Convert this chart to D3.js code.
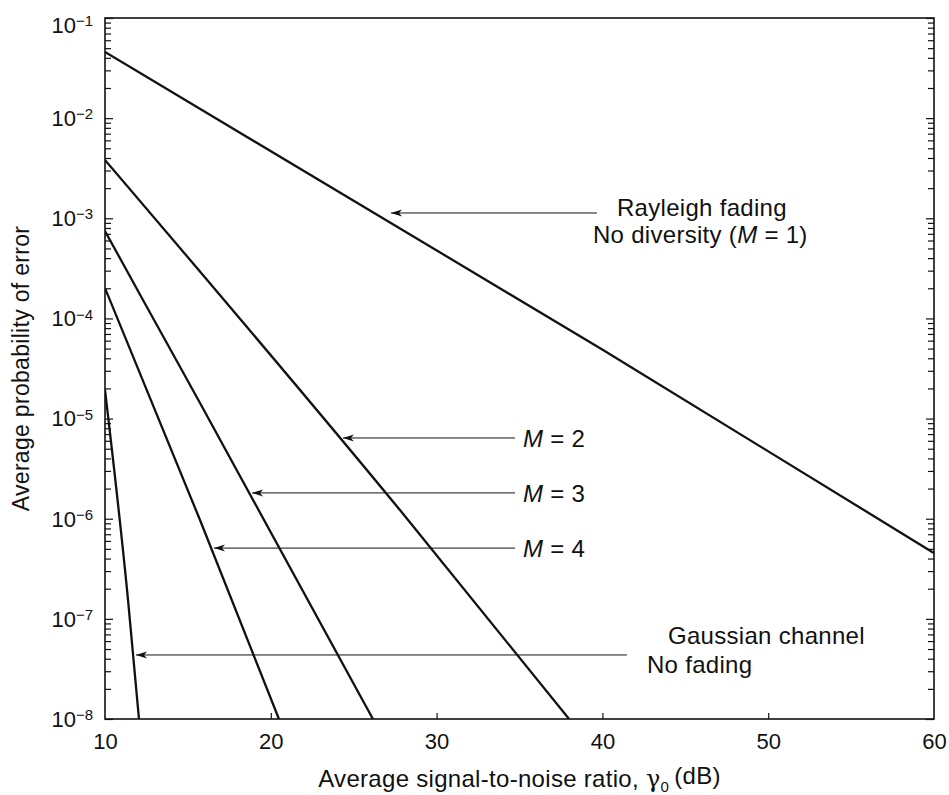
<!DOCTYPE html>
<html>
  <head>
    <meta charset="utf-8">
    <title>Error probability with diversity</title>
    <script src="https://cdn.jsdelivr.net/npm/d3@7"></script>
    <style>
      body { margin: 0; background: #fff; }
      svg { font-family: "Liberation Sans", Arial, sans-serif; fill: #111; }
      .curve { fill: none; stroke: #111; stroke-width: 2.3px; }
      .frame { fill: none; stroke: #111; stroke-width: 1.6px; }
      .axis path { display: none; }
      .axis line { stroke: #111; stroke-width: 1.2px; }
      .pointer { stroke: #111; stroke-width: 1px; }
      .note { font-size: 24px; letter-spacing: 0.3px; }
      .tickLabel { font-size: 22px; }
    </style>
  </head>
  <body>
    <svg id="chart" width="949" height="795"></svg>
    <script>
      // curves: [dB, probability]
      rayleigh = [[10, 0.0458], [40.04, 4.84e-5], [60, 4.54e-7]];
      diversity2 = [[10, 3.82e-3], [27.79, 1.22e-6], [37.99, 1e-8]];
      diversity3 = [[10, 7.46e-4], [12.29, 1.53e-4], [15.73, 1.43e-5], [26.16, 1e-8]];
      diversity4 = [[10, 2.01e-4], [15.73, 9.7e-7], [20.49, 1e-8]];
      gaussian = [[10, 1.93e-5], [11.39, 1.54e-7], [12.05, 1e-8]];
      curves = [rayleigh, diversity2, diversity3, diversity4, gaussian];

      xTicks = [10, 20, 30, 40, 50, 60];
      yDecades = [1e-1, 1e-2, 1e-3, 1e-4, 1e-5, 1e-6, 1e-7, 1e-8];
      yExponents = ["\u22121", "\u22122", "\u22123", "\u22124", "\u22125", "\u22126", "\u22127", "\u22128"];

      // pointers: tip [dB, p], tail dB, label lines
      notes = [
        {tip: [27.19, 1.13e-3], tail: 39.67, lines: [["Rayleigh fading"], ["No diversity (", "M", " = 1)"]]},
        {tip: [24.29, 6.4e-6], tail: 34.73, lines: [["", "M", " = 2"]]},
        {tip: [18.81, 1.81e-6], tail: 34.73, lines: [["", "M", " = 3"]]},
        {tip: [16.51, 5.09e-7], tail: 34.73, lines: [["", "M", " = 4"]]},
        {tip: [11.81, 4.36e-8], tail: 41.48, lines: [["Gaussian channel"], ["No fading"]]}
      ];

      svg = d3.select("#chart");
      margin = {top: 18, right: 15, bottom: 76, left: 105};
      width = 949 - margin.left - margin.right;
      height = 795 - margin.top - margin.bottom;

      x = d3.scaleLinear().domain([10, 60]).range([0, width]);
      y = d3.scaleLog().domain([1e-8, 1e-1]).range([height, 0]);

      chart = svg.append("g")
        .attr("transform", "translate(" + margin.left + "," + margin.top + ")");

      // all ticks of the log axis, decades a bit longer
      minorTicks = [];
      yDecades.forEach(function(d) {
        if (d < 1e-1) {
          for (k = 2; k <= 9; k++) minorTicks.push(d * k);
        }
      });

      chart.append("g")
        .attr("class", "axis")
        .call(d3.axisLeft(y).tickValues(minorTicks).tickSize(-6).tickFormat(""));
      chart.append("g")
        .attr("class", "axis")
        .call(d3.axisLeft(y).tickValues(yDecades).tickSize(-8).tickFormat(""));
      chart.append("g")
        .attr("class", "axis")
        .attr("transform", "translate(" + width + ",0)")
        .call(d3.axisRight(y).tickValues(minorTicks).tickSize(-6).tickFormat(""));
      chart.append("g")
        .attr("class", "axis")
        .attr("transform", "translate(" + width + ",0)")
        .call(d3.axisRight(y).tickValues(yDecades).tickSize(-8).tickFormat(""));

      xAxis = chart.append("g")
        .attr("class", "axis")
        .attr("transform", "translate(0," + height + ")")
        .call(d3.axisBottom(x).tickValues(xTicks).tickSize(-6).tickPadding(14));
      xAxis.selectAll("text")
        .attr("class", "tickLabel")
        .attr("font-size", null)
        .attr("font-family", null)
        .attr("fill", "#111");
      xAxis.selectAll(".tick line")
        .filter(function(d) { return d == 10 || d == 60; })
        .remove();

      // y tick labels as 10 with a superscript exponent
      yLabels = chart.append("g");
      yDecades.forEach(function(d, i) {
        t = yLabels.append("text")
          .attr("class", "tickLabel")
          .attr("x", -12)
          .attr("y", y(d) + (i == 0 ? 7 : 0))
          .attr("dy", "0.36em")
          .attr("text-anchor", "end");
        t.append("tspan").text("10");
        t.append("tspan")
          .attr("font-size", "15px")
          .attr("dy", "-0.45em")
          .text(yExponents[i]);
      });

      // frame
      chart.append("rect")
        .attr("class", "frame")
        .attr("width", width)
        .attr("height", height);

      // curves
      chart.append("clipPath")
        .attr("id", "plotClip")
        .append("rect")
        .attr("width", width)
        .attr("height", height);

      line = d3.line()
        .curve(d3.curveMonotoneX)
        .x(function(d) { return x(d[0]); })
        .y(function(d) { return y(d[1]); });

      chart.append("g")
        .attr("clip-path", "url(#plotClip)")
        .selectAll(".curve")
        .data(curves)
        .enter().append("path")
        .attr("class", "curve")
        .attr("d", line);

      // arrow pointers and labels
      svg.append("defs").append("marker")
        .attr("id", "head")
        .attr("viewBox", "0 -5 12 10")
        .attr("refX", 0)
        .attr("refY", 0)
        .attr("markerWidth", 12)
        .attr("markerHeight", 10)
        .attr("markerUnits", "userSpaceOnUse")
        .attr("orient", "auto")
        .append("path")
        .attr("d", "M0,0L11,-3.5L8,0L11,3.5Z")
        .attr("fill", "#111");

      noteGroup = chart.append("g");
      notes.forEach(function(n, i) {
        ty = y(n.tip[1]);
        noteGroup.append("line")
          .attr("class", "pointer")
          .attr("x1", x(n.tip[0]) + 1)
          .attr("x2", x(n.tail))
          .attr("y1", ty)
          .attr("y2", ty)
          .attr("marker-start", "url(#head)");

        if (n.lines.length == 1) {
          offsets = [[8, 9]];
        } else if (i == 0) {
          offsets = [[20, 3], [-4, 30]];
        } else {
          offsets = [[41, -11], [20, 18]];
        }
        n.lines.forEach(function(parts, j) {
          t = noteGroup.append("text")
            .attr("class", "note")
            .attr("x", x(n.tail) + offsets[j][0])
            .attr("y", ty + offsets[j][1]);
          parts.forEach(function(p, k) {
            t.append("tspan")
              .attr("font-style", k == 1 ? "italic" : null)
              .text(p);
          });
        });
      });

      // axis titles
      xTitle = chart.append("text")
        .attr("x", width / 2)
        .attr("y", height + 68)
        .attr("text-anchor", "middle")
        .attr("font-size", "24px")
        .attr("letter-spacing", "0.3px");
      xTitle.append("tspan").text("Average signal-to-noise ratio, ");
      xTitle.append("tspan").attr("font-family", "'DejaVu Serif', serif").text("\u03b3");
      xTitle.append("tspan").attr("font-size", "15px").attr("dy", "0.3em").text("0");
      xTitle.append("tspan").attr("dy", "-0.3em").attr("dx", "5").text("(dB)");

      chart.append("text")
        .attr("transform", "rotate(-90)")
        .attr("x", -height / 2)
        .attr("y", -76)
        .attr("text-anchor", "middle")
        .attr("font-size", "23px")
        .attr("letter-spacing", "0.3px")
        .text("Average probability of error");
    </script>
  </body>
</html>
